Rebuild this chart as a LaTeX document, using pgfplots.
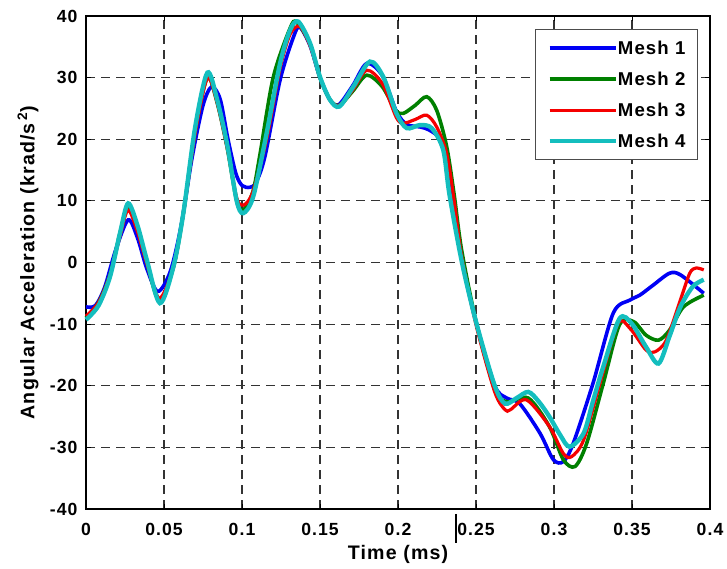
\documentclass[border=0pt]{standalone}
\usepackage{fontspec}
\setmainfont{Liberation Sans}[LetterSpace=6]
\usepackage{pgfplots}
\pgfplotsset{compat=1.18}

\definecolor{mblue}{RGB}{0,0,245}
\definecolor{mgreen}{RGB}{0,128,0}
\definecolor{mred}{RGB}{245,0,0}
\definecolor{mcyan}{RGB}{20,190,190}

\begin{document}
\begin{tikzpicture}
\begin{axis}[
    scale only axis,
    width=312pt, height=246.5pt,
    xmin=0, xmax=0.4, ymin=-40, ymax=40,
    font=\fontsize{8.8}{10}\selectfont\bfseries,
    xtick={0,0.05,0.1,0.15,0.2,0.25,0.3,0.35,0.4},
    xticklabels={0,0.05,0.1,0.15,0.2,0.25,0.3,0.35,0.4},
    ytick={-40,-30,-20,-10,0,10,20,30,40},
    yticklabels={-40,-30,-20,-10,0,10,20,30,40},
    xticklabel style={yshift=-3.6pt},
    yticklabel style={xshift=-0.7pt},
    tick align=inside,
    major tick length=2.5pt,
    tick style={black, line width=0.5pt},
    axis line style={black, line width=0.75pt},
    grid=major,
    major grid style={black!80, line width=0.6pt, dash pattern=on 4.5pt off 3pt},
    xlabel={Time (ms)},
    ylabel={Angular Acceleration (krad/s\textsuperscript{\,2})},
    label style={font=\fontsize{9.8}{11}\selectfont\bfseries},
    xlabel style={at={(axis description cs:0.5,0)}, anchor=center, yshift=-22.5pt},
    ylabel style={at={(axis description cs:-0.093,0.5)}, anchor=center},
    legend cell align=left,
    legend image code/.code={\draw[#1] (0pt,0pt) -- (33pt,0pt);},
    legend style={at={(0.7196,0.9736)}, anchor=north west,
        font=\fontsize{9.3}{11}\selectfont\bfseries,
        draw=black!70, line width=0.5pt,
        nodes={inner sep=0pt, text height=6.7pt, text depth=0pt},
        row sep=8.8pt, inner xsep=6pt, inner ysep=6pt,
        /tikz/every even column/.append style={column sep=4.5pt}},
    clip=false,
]
\addplot[mblue, line width=1.8pt, smooth] coordinates {
(0,-7.2) (0.006,-7) (0.012,-4) (0.019,2) (0.027,6.9) (0.033,4) (0.039,-1)
(0.046,-4.7) (0.054,-1.5) (0.061,6) (0.068,17) (0.075,25.5) (0.0805,28.5)
(0.086,26.5) (0.091,20) (0.096,14.5) (0.1,12.5) (0.105,12.2) (0.109,13)
(0.1147,17.2) (0.1244,29.6) (0.133,36.6) (0.137,38.2) (0.1436,35.2) (0.15,30)
(0.1564,26.4) (0.162,25.6) (0.171,28.7) (0.18,32.3) (0.19,30.3) (0.199,24.5)
(0.2056,22.4) (0.214,22) (0.22,21.5) (0.227,19.9) (0.2333,14.5) (0.241,0.5)
(0.2504,-10) (0.262,-20) (0.2697,-22) (0.278,-22.9) (0.291,-27.7) (0.2996,-32)
(0.306,-32.3) (0.3124,-29.3) (0.325,-19.6) (0.338,-8.2) (0.3487,-6.1)
(0.355,-5.3) (0.3637,-3.65) (0.374,-1.75) (0.381,-2.0) (0.396,-5.0)
};
\addlegendentry{Mesh 1}
\addplot[mgreen, line width=1.8pt, smooth] coordinates {
(0,-9) (0.008,-6.5) (0.0154,-2) (0.022,5) (0.027,9) (0.033,5.5) (0.039,0)
(0.047,-6.2) (0.056,-0.8) (0.0624,8) (0.07,21.5) (0.0778,30) (0.084,26)
(0.0906,18.5) (0.0966,10) (0.1008,8.5) (0.107,11.5) (0.1115,17.5) (0.12,30)
(0.1308,38) (0.135,39) (0.1436,35.5) (0.15,30) (0.1564,26.4) (0.1624,25.5)
(0.171,27.8) (0.18,30.4) (0.19,28.5) (0.1985,24.7) (0.2034,24.2) (0.211,25.5)
(0.2184,26.9) (0.2248,24.7) (0.2312,18.8) (0.236,11) (0.2408,2) (0.2504,-10)
(0.262,-20.5) (0.2697,-22.6) (0.2835,-22) (0.297,-26.6) (0.306,-32)
(0.3135,-33.1) (0.321,-29.3) (0.3316,-19.6) (0.342,-10.1) (0.351,-9.6)
(0.359,-11.8) (0.367,-12.6) (0.374,-11) (0.383,-7.2) (0.396,-5.3)
};
\addlegendentry{Mesh 2}
\addplot[mred, line width=1.6pt, smooth] coordinates {
(0,-8.7) (0.008,-6.5) (0.0154,-2) (0.022,4.5) (0.027,8.5) (0.033,5) (0.039,-0.2)
(0.047,-5.8) (0.056,-0.8) (0.0624,8) (0.07,21) (0.0778,29.9) (0.084,26)
(0.0906,18.5) (0.0966,10.5) (0.101,9.3) (0.107,11.5) (0.1158,20) (0.1244,31.5)
(0.1308,37) (0.137,38.3) (0.1436,35.2) (0.15,30) (0.1564,26.4) (0.1624,25.5)
(0.171,28) (0.18,31.2) (0.19,29) (0.199,23.5) (0.2034,22.6) (0.211,23.2)
(0.2184,23.9) (0.2248,22) (0.2312,17.7) (0.236,10) (0.2408,1) (0.2504,-10.5)
(0.262,-21) (0.2686,-23.9) (0.272,-23.9) (0.2824,-22.3) (0.297,-26.6)
(0.306,-31) (0.3113,-31.5) (0.319,-28.8) (0.3295,-19.6) (0.341,-9.9)
(0.3487,-10.7) (0.359,-14.2) (0.3647,-14.5) (0.372,-12.6) (0.381,-6.1)
(0.387,-1.75) (0.391,-0.9) (0.396,-1.2)
};
\addlegendentry{Mesh 3}
\addplot[mcyan, line width=2.2pt, smooth] coordinates {
(0,-9.3) (0.008,-7) (0.0154,-2.3) (0.022,5) (0.027,9.6) (0.033,6) (0.039,0.4)
(0.0474,-6.6) (0.056,-0.7) (0.0624,8) (0.07,22) (0.0778,30.8) (0.084,26.5)
(0.0906,19) (0.0966,10) (0.1008,8) (0.1072,10.7) (0.1158,21) (0.1244,32.3)
(0.1308,37.7) (0.136,39.1) (0.1436,35.6) (0.15,30.1) (0.1564,26.4)
(0.1624,25.3) (0.1713,28.5) (0.182,32.6) (0.1906,30.1) (0.199,24.2)
(0.2056,21.8) (0.214,22.3) (0.2216,21.8) (0.229,18.25) (0.233,11) (0.241,0)
(0.2504,-10) (0.262,-20) (0.2686,-22.9) (0.276,-22) (0.2835,-21) (0.29,-22.5)
(0.297,-25) (0.304,-28) (0.31,-29.9) (0.319,-27.7) (0.325,-22.5)
(0.3316,-16.9) (0.342,-9.1) (0.3498,-9.9) (0.359,-13.7) (0.367,-16.4)
(0.374,-12) (0.381,-7.2) (0.389,-3.9) (0.396,-2.8)
};
\addlegendentry{Mesh 4}
% stray mark under the axis in the original
\draw[black, line width=0.6pt] (axis cs:0.2372,-40.8) -- (axis cs:0.2372,-45.5);
\end{axis}
\pgfresetboundingbox
\path ([shift={(-43pt,-30pt)}]current axis.south west)
  rectangle ([shift={(8.5pt,8pt)}]current axis.north east);
\end{tikzpicture}
\end{document}
